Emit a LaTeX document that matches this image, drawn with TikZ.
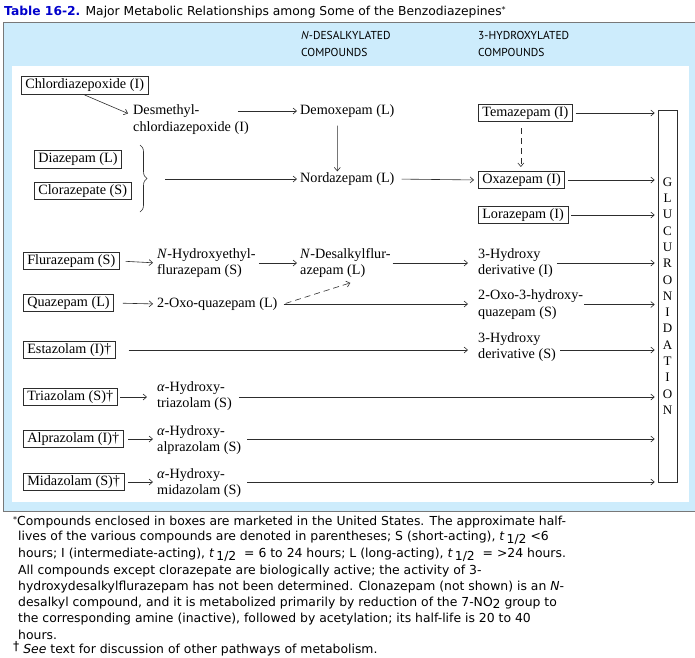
\documentclass[tikz,border=0pt]{standalone}
\usepackage{fontspec}
\setmainfont{Liberation Serif}
\newfontfamily\hdrfont{PT Sans}
\newfontfamily\notefont{DejaVu Sans}
\usetikzlibrary{arrows.meta,decorations.pathreplacing}
\definecolor{bgblue}{RGB}{205,236,252}
\definecolor{ttlblue}{RGB}{0,0,204}
\definecolor{framegray}{RGB}{120,120,120}
\definecolor{ink}{RGB}{45,45,45}
\newcommand{\halfsub}{\textit{t}\,\raisebox{-2.5pt}{1/2}}
\begin{document}
\begin{tikzpicture}[x=1pt,y=-1pt,
  box/.style={draw=ink, line width=0.6pt, inner xsep=4pt, inner ysep=2pt, text height=10pt, text depth=3.5pt, anchor=west, font=\fontsize{14.2}{16.3}\selectfont},
  lbl/.style={inner sep=0pt, anchor=west, align=left, font=\fontsize{14.2}{16.3}\selectfont},
  arr/.style={draw=ink, line width=0.6pt, -{Straight Barb[length=3.5pt,width=6pt]}},
  dsh/.style={dash pattern=on 6pt off 4pt},
  hdr/.style={inner sep=0pt, anchor=west, align=left, font=\hdrfont\fontsize{11.5}{16.5}\selectfont},
  note/.style={inner sep=0pt, anchor=west, font=\notefont\fontsize{12.4}{14}\selectfont}]
\useasboundingbox (0,0) rectangle (695,657);
% background and frame
\fill[bgblue] (3,22) rectangle (695,511);
\fill[white] (12,66) rectangle (689,502);
\draw[framegray, line width=0.8pt] (695,22) -- (3,22) -- (3,511) -- (695,511);
% title
\node[note, font=\notefont\fontsize{12.3}{14}\selectfont] (title) at (4,12) {{\color{ttlblue}\bfseries Table 16-2.} Major Metabolic Relationships among Some of the Benzodiazepines\raisebox{3pt}{\footnotesize *}};
% headers
\node[hdr] (hdrN) at (301,44) {\textit{N}-DESALKYLATED\\COMPOUNDS};
\node[hdr] (hdrH) at (478,44) {3-HYDROXYLATED\\COMPOUNDS};
% nodes
\node[box] (chl) at (21,85.5) {Chlordiazepoxide (I)};
\node[lbl] (desm) at (133,119.5) {Desmethyl-\\chlordiazepoxide (I)};
\node[lbl] (demox) at (300,111) {Demoxepam (L)};
\node[box] (tema) at (478,113) {Temazepam (I)};
\node[box] (diaz) at (34,159.5) {Diazepam (L)};
\node[box] (cloz) at (34,191) {Clorazepate (S)};
\node[lbl] (nord) at (300,179) {Nordazepam (L)};
\node[box] (oxa) at (478,180) {Oxazepam (I)};
\node[box] (lora) at (478,215) {Lorazepam (I)};
\node[box] (flu) at (23,261) {Flurazepam (S)};
\node[lbl] (nhyd) at (157,263) {\textit{N}-Hydroxyethyl-\\flurazepam (S)};
\node[lbl] (ndes) at (300,263) {\textit{N}-Desalkylflur-\\azepam (L)};
\node[lbl] (hyd1) at (478,263) {3-Hydroxy\\derivative (I)};
\node[box] (qua) at (23,303) {Quazepam (L)};
\node[lbl] (oxo) at (157,304) {2-Oxo-quazepam (L)};
\node[lbl] (oxo3) at (478,304.5) {2-Oxo-3-hydroxy-\\quazepam (S)};
\node[box] (esta) at (23,350) {Estazolam (I)†};
\node[lbl] (hyd2) at (478,347) {3-Hydroxy\\derivative (S)};
\node[box] (tri) at (23,397) {Triazolam (S)†};
\node[lbl] (ahtri) at (157,396) {\textit{α}-Hydroxy-\\triazolam (S)};
\node[box] (alp) at (23,439) {Alprazolam (I)†};
\node[lbl] (ahalp) at (157,440) {\textit{α}-Hydroxy-\\alprazolam (S)};
\node[box] (mid) at (23,482) {Midazolam (S)†};
\node[lbl] (ahmid) at (157,483) {\textit{α}-Hydroxy-\\midazolam (S)};
\node[draw=ink, line width=0.6pt, minimum width=19pt, minimum height=372pt, inner sep=0pt, align=center, font=\fontsize{13}{16.3}\selectfont] (gluc) at (667.5,296) {G\\L\\U\\C\\U\\R\\O\\N\\I\\D\\A\\T\\I\\O\\N};
% brace
\coordinate (bt) at (140,145);
\coordinate (bb) at (140,212);
\coordinate (brtip) at (148,179);
\draw[ink, line width=0.6pt, decorate, decoration={brace, amplitude=7pt}] (bt) -- (bb);
% helper coordinates
\coordinate (desmR) at ([xshift=-11pt]desm.east);
\coordinate (oxs) at ([xshift=6pt]oxo.east);
% connectors
\draw[arr, shorten <=1pt] ([xshift=-1pt]chl.south) -- ([xshift=-5pt,yshift=6pt]desm.west);
\draw[arr, shorten >=3pt] (desmR |- demox.west) -- (demox.west);
\draw[arr, shorten <=8pt, shorten >=1pt] ([xshift=-10pt]demox.south) -- ([xshift=-10pt]nord.north);
\draw[arr, shorten <=17pt, shorten >=3pt] (brtip) -- (nord.west);
\draw[arr, shorten <=7pt, shorten >=4pt] (nord.east) -- (oxa.west);
\draw[arr, dsh, shorten <=6pt, shorten >=4pt] ([xshift=-4.5pt]tema.south) -- ([xshift=-4.5pt]tema.south |- oxa.north);
\draw[arr, shorten <=3pt, shorten >=3pt] (tema.east) -- (tema.east -| gluc.west);
\draw[arr, shorten <=3pt, shorten >=3pt] (oxa.east) -- (oxa.east -| gluc.west);
\draw[arr, shorten <=3pt, shorten >=3pt] (lora.east) -- (lora.east -| gluc.west);
\draw[arr, shorten <=6pt, shorten >=4pt] (flu.east) -- (nhyd.west);
\draw[arr, shorten <=3pt, shorten >=3pt] (nhyd.east) -- (ndes.west);
\draw[arr, shorten <=2pt, shorten >=10pt] (ndes.east) -- (hyd1.west);
\draw[arr, shorten <=4pt, shorten >=3pt] (hyd1.east) -- (hyd1.east -| gluc.west);
\draw[arr, shorten <=9pt, shorten >=4pt] (qua.east) -- (oxo.west);
\draw[arr, shorten >=10pt] (oxs) -- (oxs -| oxo3.west);
\draw[arr, dsh, shorten <=2pt] (oxs) -- ([xshift=5pt,yshift=-5pt]ndes.south);
\draw[arr, shorten <=1pt, shorten >=3pt] (oxo3.east) -- (oxo3.east -| gluc.west);
\draw[arr, shorten <=13pt, shorten >=10pt] (esta.east) -- (esta.east -| hyd2.west);
\draw[arr, shorten <=4pt, shorten >=3pt] (hyd2.east |- esta.east) -- (esta.east -| gluc.west);
\draw[arr, shorten <=3pt, shorten >=10pt] (tri.east) -- (tri.east -| ahtri.west);
\draw[arr, shorten <=7pt, shorten >=3pt] (ahtri.east |- tri.east) -- (tri.east -| gluc.west);
\draw[arr, shorten <=5pt, shorten >=4pt] (alp.east) -- (alp.east -| ahalp.west);
\draw[arr, shorten <=6pt, shorten >=3pt] (ahalp.east |- alp.east) -- (alp.east -| gluc.west);
\draw[arr, shorten <=4pt, shorten >=4pt] (mid.east) -- (mid.east -| ahmid.west);
\draw[arr, shorten <=6pt, shorten >=3pt] (ahmid.east |- mid.east) -- (mid.east -| gluc.west);
% footnote
\node[note] (fn1) at (13,522) {\raisebox{3pt}{\footnotesize *}Compounds enclosed in boxes are marketed in the United States. The approximate half-};
\node[note] (fn2) at (18,538) {lives of the various compounds are denoted in parentheses; S (short-acting), \halfsub\ <6};
\node[note] (fn3) at (18,555) {hours; I (intermediate-acting), \halfsub\ \ = 6 to 24 hours; L (long-acting), \halfsub\ \ = >24 hours.};
\node[note] (fn4) at (18,571) {All compounds except clorazepate are biologically active; the activity of 3-};
\node[note] (fn5) at (18,587) {hydroxydesalkylflurazepam has not been determined. Clonazepam (not shown) is an \textit{N}-};
\node[note] (fn6) at (18,603) {desalkyl compound, and it is metabolized primarily by reduction of the 7-NO\raisebox{-2.5pt}{2} group to};
\node[note] (fn7) at (18,619) {the corresponding amine (inactive), followed by acetylation; its half-life is 20 to 40};
\node[note] (fn8) at (18,635) {hours.};
\node[note] (fn9) at (13,649) {\raisebox{3pt}{†} \textit{See} text for discussion of other pathways of metabolism.};
\end{tikzpicture}
\end{document}
